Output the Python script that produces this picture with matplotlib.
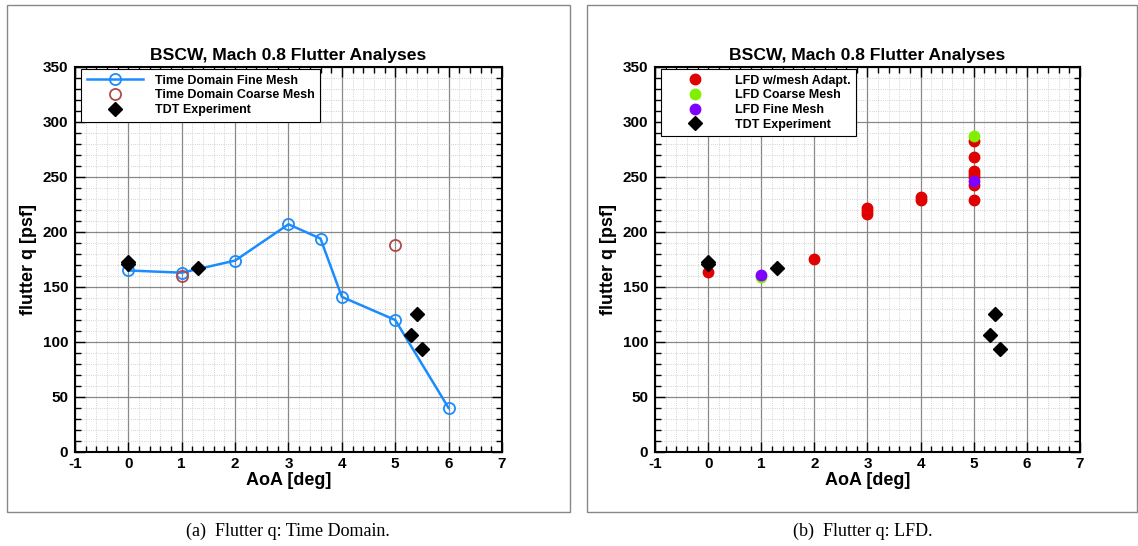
import matplotlib.pyplot as plt
from matplotlib.patches import Rectangle
from matplotlib.ticker import MultipleLocator

plt.rcParams['font.family'] = ['Liberation Sans', 'DejaVu Sans']
plt.rcParams['axes.unicode_minus'] = False

# time domain results
td_fine_aoa = [0, 1, 2, 3, 3.6, 4, 5, 6]
td_fine_q = [165, 163, 174, 207, 194, 141, 120, 40]
td_coarse_aoa = [1, 5]
td_coarse_q = [160, 188]

# LFD results
lfd_adapt_aoa = [0, 2, 3, 3, 3, 4, 4, 5, 5, 5, 5, 5, 5, 5]
lfd_adapt_q = [164, 175, 216, 219, 222, 229, 232, 229, 243, 250, 253, 255, 268, 283]
lfd_coarse_aoa = [1, 5]
lfd_coarse_q = [159, 287]
lfd_fine_aoa = [1, 5]
lfd_fine_q = [161, 246]

# wind tunnel
tdt_aoa = [0, 0, 1.3, 5.3, 5.4, 5.5]
tdt_q = [171, 173, 167, 106, 125, 94]

fig = plt.figure(figsize=(11.38, 5.46), dpi=100)


def setup_axes(ax):
    ax.set_xlim(-1, 7)
    ax.set_ylim(0, 350)
    ax.xaxis.set_major_locator(MultipleLocator(1))
    ax.xaxis.set_minor_locator(MultipleLocator(0.2))
    ax.yaxis.set_major_locator(MultipleLocator(50))
    ax.yaxis.set_minor_locator(MultipleLocator(10))
    ax.grid(which='major', color='#888888', lw=0.9)
    ax.grid(which='minor', color='#c4c4c4', lw=0.6, ls=':')
    ax.set_axisbelow(True)
    ax.tick_params(which='both', direction='in', top=True, right=True,
                   labelsize=11, width=1)
    ax.tick_params(which='major', length=7)
    ax.tick_params(which='minor', length=4)
    ax.tick_params(axis='y', pad=5)
    for lab in ax.get_xticklabels() + ax.get_yticklabels():
        lab.set_fontweight('bold')
    for s in ax.spines.values():
        s.set_linewidth(1.5)
    ax.set_title('BSCW, Mach 0.8 Flutter Analyses', fontsize=12.6,
                 fontweight='bold', pad=5)
    ax.set_xlabel('AoA [deg]', fontsize=13, fontweight='bold', labelpad=1)
    ax.set_ylabel('flutter q [psf]', fontsize=13, fontweight='bold', labelpad=4)


def add_legend(ax):
    leg = ax.legend(loc='upper left', bbox_to_anchor=(0.015, 0.995),
                    prop={'weight': 'bold', 'size': 9},
                    fancybox=False, edgecolor='black', framealpha=1,
                    borderaxespad=0, handlelength=4.5, labelspacing=0.22,
                    borderpad=0.45, handletextpad=0.9)
    leg.get_frame().set_linewidth(0.8)


# panel frames
for x0, w in [(0.006, 0.495), (0.516, 0.483)]:
    fig.patches.append(Rectangle((x0, 0.062), w, 0.929, transform=fig.transFigure,
                                 fill=False, ec='#888888', lw=1))

ax1 = fig.add_axes([0.0659, 0.1722, 0.3752, 0.7051])
setup_axes(ax1)
ax1.plot(td_fine_aoa, td_fine_q, '-o', color='#1a8cff', mfc='none', mec='#1a8cff',
         ms=8, lw=1.8, mew=1.3, label='Time Domain Fine Mesh')
ax1.plot(td_coarse_aoa, td_coarse_q, 'o', color='#b04a4a', mfc='none', ms=8,
         mew=1.3, label='Time Domain Coarse Mesh')
ax1.plot(tdt_aoa, tdt_q, 'D', color='black', ms=7, label='TDT Experiment')
add_legend(ax1)

ax2 = fig.add_axes([0.5756, 0.1722, 0.3734, 0.7051])
setup_axes(ax2)
ax2.plot(lfd_adapt_aoa, lfd_adapt_q, 'o', color='#e00000', ms=7.5,
         label='LFD w/mesh Adapt.')
ax2.plot(lfd_coarse_aoa, lfd_coarse_q, 'o', color='#80f000', ms=7.5,
         label='LFD Coarse Mesh')
ax2.plot(lfd_fine_aoa, lfd_fine_q, 'o', color='#8000ff', ms=7.5,
         label='LFD Fine Mesh')
ax2.plot(tdt_aoa, tdt_q, 'D', color='black', ms=7, label='TDT Experiment')
add_legend(ax2)

# captions
fig.text(0.253, 0.018, '(a)  Flutter q: Time Domain.', ha='center',
         family='Liberation Serif', fontsize=13)
fig.text(0.758, 0.018, '(b)  Flutter q: LFD.', ha='center',
         family='Liberation Serif', fontsize=13)

fig.savefig('out.png', dpi=100)
